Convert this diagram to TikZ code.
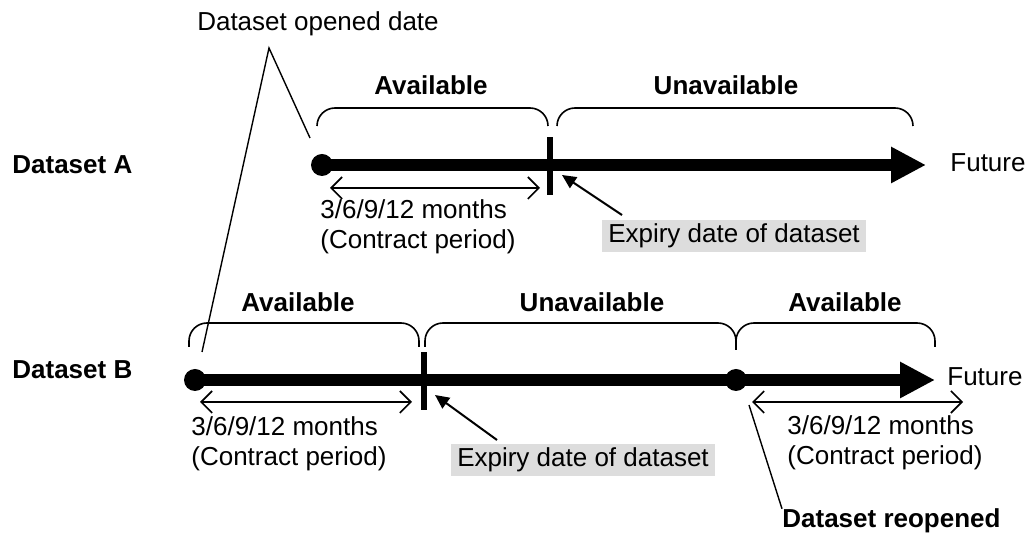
\documentclass[tikz,border=0pt]{standalone}
\usepackage{fontspec}
\setmainfont{Liberation Sans}
\usetikzlibrary{arrows.meta, positioning, calc}
\definecolor{boxgray}{RGB}{221,221,221}

\begin{document}
\begin{tikzpicture}[
  x=0.5pt, y=-0.5pt,
  every node/.style={font=\fontsize{13}{15}\selectfont, inner sep=0pt},
  bold/.style={font=\fontsize{13}{15}\selectfont\bfseries},
  dot/.style={circle, fill=black, minimum size=11pt},
  expiry/.style={fill=black, minimum width=3pt, minimum height=29pt},
  timeline/.style={line width=6pt, -{Triangle[length=17.5pt, width=17pt]}},
  period/.style={line width=0.8pt,
    {Straight Barb[length=5.5pt, width=11pt]}-{Straight Barb[length=5.5pt, width=11pt]}},
  pointer/.style={line width=1pt, -{Triangle[length=7pt, width=6.5pt]}},
  leader/.style={line width=0.7pt},
  brace/.style={line width=0.8pt, rounded corners=9pt},
  greybox/.style={fill=boxgray, inner xsep=3pt, minimum height=16pt}
]
\useasboundingbox (0,0) rectangle (1029,533);

% ------------------------------------------------------------
% Dataset A
% ------------------------------------------------------------

\node[bold, anchor=base west] (nameA) at (12,174) {Dataset A};
\node[dot] (startA) at (322,165) {};
\coordinate (endA) at (926,165);
\node[anchor=base west] (futA) at (950,172) {Future};
\draw[timeline] (startA.center) -- (endA);
\node[expiry] (expA) at (550,166) {};

\draw[brace] (317,126) -- (317,108) -- (548,108) -- (548,126);
\draw[brace] (557,126) -- (557,108) -- (913,108) -- (913,126);
\node[bold, anchor=base] (availA) at (431,95) {Available};
\node[bold, anchor=base] (unavailA) at (726,95) {Unavailable};

\coordinate (perAl) at (330,188);
\coordinate (perAr) at (540,188);
\draw[period] (perAl) -- (perAr);
\node[anchor=west, align=left] (contrA) at (320,227) {3/6/9/12 months\\(Contract period)};

\node[greybox] (boxA) at (734,236) {Expiry date of dataset};
\coordinate (tailA) at (622,215);
\coordinate (tipA) at (562,175);
\draw[pointer] (tailA) -- (tipA);

% ------------------------------------------------------------
% Dataset B
% ------------------------------------------------------------

\node[bold, anchor=base west] (nameB) at (12,379) {Dataset B};
\node[dot] (startB) at (195,380) {};
\coordinate (endB) at (935,380);
\node[anchor=base west] (futB) at (947,386) {Future};
\draw[timeline] (startB.center) -- (endB);
\node[dot] (reopen) at (736,380) {};
\node[expiry] (expB) at (424,381) {};

\draw[brace] (189,347) -- (189,323) -- (419,323) -- (419,347);
\draw[brace] (425,347) -- (425,323) -- (736,323) -- (736,350);
\draw[brace] (736,350) -- (736,323) -- (935,323) -- (935,347);
\node[bold, anchor=base] (availB) at (298,312) {Available};
\node[bold, anchor=base] (unavailB) at (592,312) {Unavailable};
\node[bold, anchor=base] (reavailB) at (845,312) {Available};

\coordinate (perBl) at (200,402);
\coordinate (perBr) at (412,402);
\draw[period] (perBl) -- (perBr);
\node[anchor=west, align=left] (contrB) at (191,444) {3/6/9/12 months\\(Contract period)};

\coordinate (perCl) at (752,402);
\coordinate (perCr) at (963,402);
\draw[period] (perCl) -- (perCr);
\node[anchor=west, align=left] (contrC) at (787,443) {3/6/9/12 months\\(Contract period)};

\node[greybox] (boxB) at (583,460) {Expiry date of dataset};
\coordinate (tailB) at (497,440);
\coordinate (tipB) at (435,395);
\draw[pointer] (tailB) -- (tipB);

% ------------------------------------------------------------
% Opened and reopened callouts
% ------------------------------------------------------------

\node[anchor=base] (opened) at (318,31) {Dataset opened date};
\coordinate (apex) at (269,48);
\coordinate (openA) at (310,138);
\coordinate (openB) at (202,352);
\draw[leader] (openA) -- (apex) -- (openB);

\node[bold, anchor=base west] (reopened) at (782,528) {Dataset reopened};
\coordinate (reopenFoot) at (749,405);
\draw[leader] (reopenFoot) -- (reopened.north west);

\end{tikzpicture}
\end{document}
